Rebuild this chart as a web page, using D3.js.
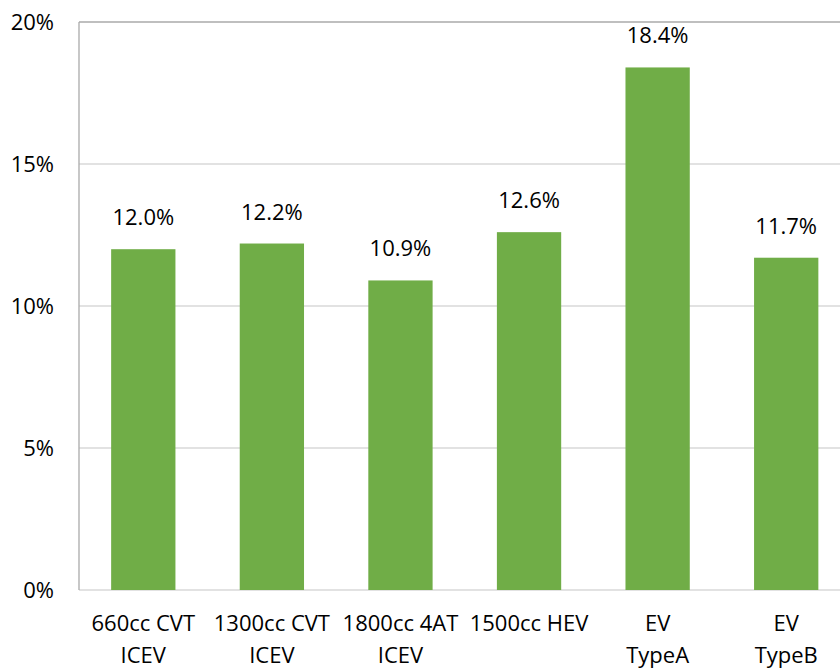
<!DOCTYPE html>
<html>
<head>
<meta charset="utf-8">
<script src="https://cdn.jsdelivr.net/npm/d3@7"></script>
<style>
  body { margin: 0; background: #fff; }
  svg text { font-family: "Open Sans", Lato, sans-serif; fill: #000; }
</style>
</head>
<body>
<svg id="chart" width="840" height="668"></svg>
<script>
// chart data
var categories = [
  ["660cc CVT", "ICEV"],
  ["1300cc CVT", "ICEV"],
  ["1800cc 4AT", "ICEV"],
  ["1500cc HEV"],
  ["EV", "TypeA"],
  ["EV", "TypeB"]
];
var values = [12.0, 12.2, 10.9, 12.6, 18.4, 11.7];
var yTicks = [0, 5, 10, 15, 20];

var margin = { top: 22, left: 79, bottom: 78 },
  width = 771.5,
  height = 668 - margin.top - margin.bottom;

var svg = d3.select("#chart");
var g = svg.append("g")
  .attr("transform", "translate(" + margin.left + "," + margin.top + ")");

var x = d3.scaleBand()
  .domain(d3.range(categories.length))
  .range([0, width])
  .paddingInner(0.5)
  .paddingOuter(0.25);

var y = d3.scaleLinear().domain([0, 20]).range([height, 0]);

// gridlines
g.selectAll("line.grid")
  .data(yTicks)
  .enter().append("line")
  .attr("class", "grid")
  .attr("x1", 0)
  .attr("x2", width)
  .attr("y1", function (d) { return y(d); })
  .attr("y2", function (d) { return y(d); })
  .attr("stroke", function (d) { return d === 20 ? "#aaaaaa" : "#d9d9d9"; })
  .attr("stroke-width", 1.3);

// left border
g.append("line")
  .attr("x1", 0).attr("x2", 0)
  .attr("y1", 0).attr("y2", height)
  .attr("stroke", "#aaaaaa")
  .attr("stroke-width", 1.3);

// y axis labels
var yAxis = d3.axisLeft(y)
  .tickValues(yTicks)
  .tickFormat(function (d) { return d + "%"; })
  .tickSize(0)
  .tickPadding(25);
g.append("g")
  .call(yAxis)
  .call(function (s) { s.select(".domain").remove(); })
  .selectAll("text")
  .style("font-size", "22px")
  .attr("fill", "#000");

// bars
g.selectAll("rect.bar")
  .data(values)
  .enter().append("rect")
  .attr("class", "bar")
  .attr("x", function (d, i) { return x(i); })
  .attr("width", x.bandwidth())
  .attr("y", function (d) { return y(d); })
  .attr("height", function (d) { return height - y(d); })
  .attr("fill", "#70ad47");

// value labels
g.selectAll("text.val")
  .data(values)
  .enter().append("text")
  .attr("class", "val")
  .attr("x", function (d, i) { return x(i) + x.bandwidth() / 2; })
  .attr("y", function (d) { return y(d) - 24; })
  .attr("text-anchor", "middle")
  .style("font-size", "22px")
  .text(function (d) { return d.toFixed(1) + "%"; });

// category labels
var cat = g.selectAll("text.cat")
  .data(categories)
  .enter().append("text")
  .attr("class", "cat")
  .attr("text-anchor", "middle")
  .style("font-size", "22px")
  .attr("transform", function (d, i) {
    return "translate(" + (x(i) + x.bandwidth() / 2) + "," + (height + 41) + ")";
  });
cat.selectAll("tspan")
  .data(function (d) { return d; })
  .enter().append("tspan")
  .attr("x", 0)
  .attr("dy", function (d, i) { return i === 0 ? 0 : 32; })
  .text(function (d) { return d; });
</script>
</body>
</html>
